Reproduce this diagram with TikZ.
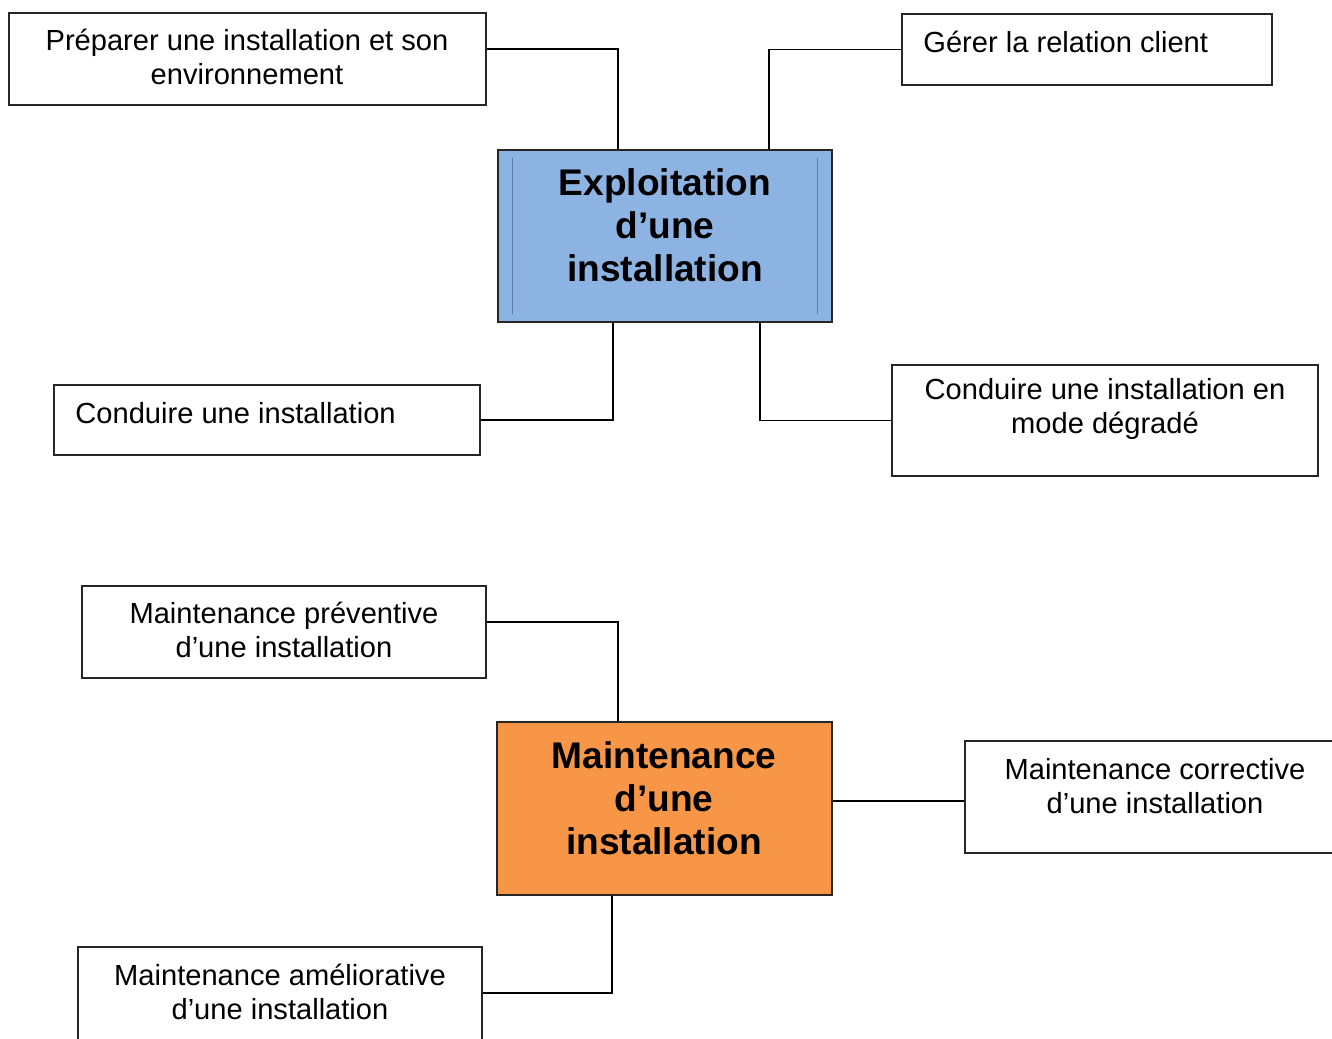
\documentclass[tikz,border=0pt]{standalone}
\usepackage{fontspec}
\setmainfont{Liberation Sans}
\usetikzlibrary{calc}
\definecolor{bleuexp}{HTML}{8DB3E2}
\definecolor{orangemnt}{HTML}{F79646}
\definecolor{filetbleu}{HTML}{5F7FA8}
\newcommand{\boite}[6]{% name, left, top, right, bottom, style
    \node[#6, minimum width={(#4-#2)*0.5pt}, minimum height={(#5-#3)*0.5pt}]
        (#1) at ({(#2+#4)/2},{(#3+#5)/2}) {};
}

\begin{document}
\begin{tikzpicture}[x=0.5pt,y=-0.5pt,
        cadre/.style={draw=black!85,line width=0.65pt,fill=white,inner sep=0pt},
        lien/.style={draw=black,line width=0.9pt},
        texte/.style={inner sep=0pt,align=center,font=\fontsize{14.55pt}{17pt}\selectfont},
        titre/.style={inner sep=0pt,align=center,font=\fontsize{18.55pt}{21.5pt}\selectfont\bfseries}]
        \useasboundingbox (0,0) rectangle (1332,1038);
        \clip (0,0) rectangle (1332,1038);

        % Exploitation
        \boite{prep}{9}{13}{486}{105}{cadre}
        \boite{client}{902}{14}{1272}{85}{cadre}
        \boite{conduite}{54}{385}{480}{455}{cadre}
        \boite{degrade}{892}{365}{1318}{476}{cadre}
        \boite{exploit}{498}{150}{832}{322}{cadre,fill=bleuexp}
        \draw[filetbleu,line width=0.4pt] ($(exploit.north west)+(15,9)$) -- ($(exploit.south west)+(15,-9)$);
        \draw[filetbleu,line width=0.4pt] ($(exploit.north east)+(-15,9)$) -- ($(exploit.south east)+(-15,-9)$);

        \node[texte] (prep-txt) at (247,57) {Préparer une installation et son\\environnement};
        \node[texte,anchor=west] (client-txt) at (923,42) {Gérer la relation client};
        \node[texte,anchor=west] (conduite-txt) at (75,413) {Conduire une installation};
        \node[texte] (degrade-txt) at (1105,409) {Conduire une installation en\\mode dégradé};
        \node[titre] (exploit-txt) at (665,225.5) {Exploitation\\d’une\\installation};

        % Maintenance
        \boite{prev}{82}{586}{486}{678}{cadre}
        \boite{corr}{965}{741}{1345}{853}{cadre}
        \boite{amel}{78}{947}{482}{1042}{cadre}
        \boite{maint}{497}{722}{832}{895}{cadre,fill=orangemnt}

        \node[texte] (prev-txt) at (284,630) {Maintenance préventive\\d’une installation};
        \node[texte] (corr-txt) at (1155,786) {Maintenance corrective\\d’une installation};
        \node[texte] (amel-txt) at (280,991.5) {Maintenance améliorative\\d’une installation};
        \node[titre] (maint-txt) at (664,798.5) {Maintenance\\d’une\\installation};

        % Connectors
        \draw[lien] ($(prep.east)+(0,-10)$) -| ($(exploit.north)+(-47,0)$);
        \draw[lien] (client.west) -| ($(exploit.north)+(104,0)$);
        \draw[lien] ($(exploit.south)+(-52,0)$) |- (conduite.east);
        \draw[lien] ($(exploit.south)+(95,0)$) |- (degrade.west);
        \draw[lien] ($(prev.east)+(0,-10)$) -| ($(maint.north)+(-46.5,0)$);
        \draw[lien] ($(maint.east)+(0,-7.5)$) -- ($(corr.west)+(0,4)$);
        \draw[lien] ($(maint.south)+(-52.5,0)$) |- ($(amel.east)+(0,-1.5)$);
\end{tikzpicture}
\end{document}
